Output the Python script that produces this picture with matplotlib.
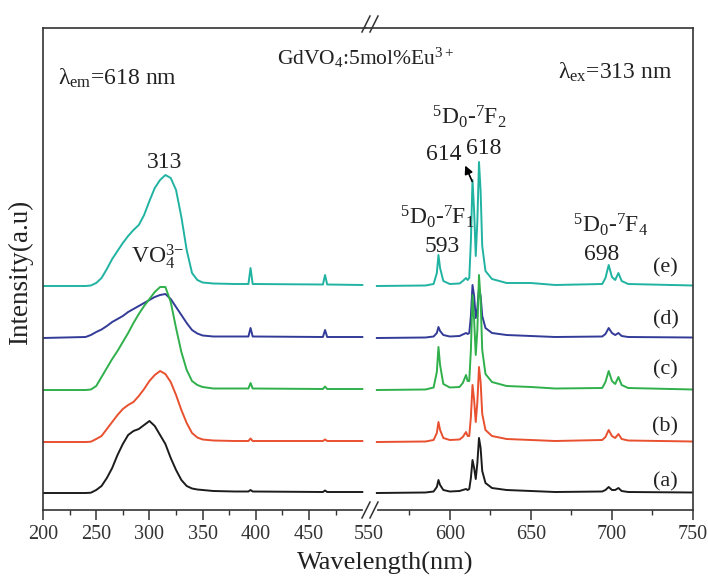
import matplotlib
matplotlib.use("Agg")
import matplotlib.pyplot as plt
from matplotlib.ticker import FixedLocator

plt.rcParams['font.family'] = ['Liberation Serif', 'DejaVu Serif']
plt.rcParams['mathtext.fontset'] = 'custom'
plt.rcParams['mathtext.rm'] = 'Liberation Serif'
plt.rcParams['mathtext.it'] = 'Liberation Serif:italic'

# excitation spectra (lambda_em = 618 nm), wavelength grid in nm
exc_nm = [200, 240, 245, 250, 255, 260, 265, 270, 275, 280, 285, 290, 295, 300,
          305, 310, 315, 320, 325, 330, 335, 340, 345, 350, 360, 380, 393, 395,
          397, 463, 465, 467, 500]
exc_a = [0, 0, 0.3, 3, 7, 15, 25, 38, 49, 58, 62, 64, 68, 72,
         67, 58, 49, 35, 23, 13, 7, 4.5, 3.5, 3, 2, 1.5, 1.5, 3,
         1.5, 1, 2.5, 1, 1]
exc_b = [0, 0, 0.3, 3, 6, 13, 20, 27, 33, 37, 40, 46, 53, 61,
         67, 71, 68, 60, 47, 32, 19, 9, 4.5, 2.5, 1.5, 1, 1, 3.5,
         1, 1, 2.5, 1, 1]
exc_c = [0, 0, 0.5, 4, 13, 22, 31, 39, 48, 57, 67, 76, 84, 91,
         98, 103, 103, 88, 62, 38, 20, 9, 5, 3, 1.5, 1.5, 1.5, 7,
         1.5, 1, 3.5, 1, 1]
exc_d = [0, 1, 3, 6, 8.5, 12, 16, 19, 22, 26, 29, 32, 35, 38,
         41, 43, 44, 39, 31, 23, 15, 8, 4.5, 2.5, 1.5, 1.5, 1.5, 10,
         1.5, 1, 8, 1, 1]
exc_e = [0, 0, 0.5, 3, 8, 17, 27, 35, 43, 50, 56, 61, 71, 85,
         98, 106, 111, 108, 96, 69, 36, 13, 6, 3.5, 2.5, 2, 2, 18,
         2, 1.5, 11, 1.5, 1]

# emission spectra (lambda_ex = 313 nm)
em_nm = [555, 585, 590, 592, 593, 594, 596, 600, 606, 608, 610, 611, 612, 613,
         614, 615, 616, 617, 618, 619, 620, 622, 626, 635, 650, 665, 694, 696,
         698, 700, 702, 704, 706, 710, 750]
em_a = [0, 0.5, 1.5, 6, 13, 8, 3, 1.5, 2, 3, 4, 3, 4, 15,
        33, 25, 14, 30, 55, 45, 22, 10, 5, 3, 2, 1, 1.5, 3,
        6, 3, 3, 5, 2, 1, 0.5]
em_b = [0, 0.5, 2, 9, 20, 12, 4, 2, 2.5, 5, 10, 6, 6, 25,
        57, 42, 20, 40, 75, 60, 28, 12, 6, 3, 2, 1, 2, 5,
        12, 6, 4, 8, 3, 1.5, 0.5]
em_c = [0, 0.5, 2.5, 18, 43, 25, 6, 2.5, 3, 7, 15, 9, 9, 40,
        95, 70, 35, 60, 115, 90, 40, 16, 8, 4, 3, 1.5, 2, 8,
        19, 9, 6, 13, 5, 2, 0.5]
em_d = [0, 0.5, 1.5, 5, 11, 7, 3, 1.5, 2, 3.5, 5, 4, 5, 22,
        53, 42, 20, 30, 50, 42, 22, 10, 5, 3, 2, 1, 1.5, 4,
        10, 5, 3, 5, 2, 1, 0.5]
em_e = [0, 0.5, 2, 13, 31, 18, 5, 2, 2.5, 5, 8, 6, 8, 45,
        106, 75, 30, 65, 124, 95, 40, 15, 7, 3, 3, 1, 2, 8,
        21, 9, 6, 13, 5, 2, 0.5]

labels = ['(a)', '(b)', '(c)', '(d)', '(e)']
offsets = [17, 68, 120, 172, 224]
colors = ['#1c1c1c', '#e8502f', '#2fb04b', '#333b98', '#21b3a2']
exc = [exc_a, exc_b, exc_c, exc_d, exc_e]
em = [em_a, em_b, em_c, em_d, em_e]

W, H = 708, 579
fig = plt.figure(figsize=(W / 100, H / 100), dpi=100)
split = 365.5
ax1 = fig.add_axes([43 / W, 69 / H, (split - 43) / W, 482 / H])
ax2 = fig.add_axes([split / W, 69 / H, (693 - split) / W, 482 / H])

draw_order = [0, 1, 3, 2, 4]
for i in draw_order:
    ax1.plot(exc_nm, [v + offsets[i] for v in exc[i]], color=colors[i], lw=1.4)
    ax2.plot(em_nm, [v + offsets[i] for v in em[i]], color=colors[i], lw=1.4)

frame = '#333333'
for ax in (ax1, ax2):
    ax.set_ylim(0, 482)
    ax.set_yticks([])
    for s in ax.spines.values():
        s.set_color(frame)
        s.set_linewidth(1.2)
    ax.tick_params(axis='x', which='major', direction='out', length=7, width=1.1,
                   color=frame, labelsize=14.5, labelcolor='#333333', pad=4)
    ax.tick_params(axis='x', which='minor', direction='out', length=3.5, width=1.0,
                   color=frame)

ax1.set_xlim(200, 503)
ax1.xaxis.set_major_locator(FixedLocator([200, 250, 300, 350, 400, 450]))
ax1.xaxis.set_minor_locator(FixedLocator([225, 275, 325, 375, 425, 475]))
ax1.spines['right'].set_visible(False)
ax1.spines['bottom'].set_bounds(200, 500)

ax2.set_xlim(548, 750)
ax2.xaxis.set_major_locator(FixedLocator([550, 600, 650, 700, 750]))
ax2.xaxis.set_minor_locator(FixedLocator([575, 625, 675, 725]))
ax2.xaxis.get_major_ticks()[0].tick1line.set_visible(False)
ax2.spines['left'].set_visible(False)
ax2.spines['bottom'].set_bounds(556, 750)

# break marks on the axis
for y0 in (510, 28):
    dy = -4 if y0 == 28 else 0
    for x0 in (362, 370):
        fig.add_artist(plt.Line2D([x0 / W, (x0 + 8) / W],
                                  [1 - (y0 + 8 + dy) / H, 1 - (y0 - 8 + dy) / H],
                                  color=frame, lw=1.1))

tc = '#222222'
fs = 17
ax1.text(214, 432, 'λ$_{\\mathrm{em}}$=618 nm', fontsize=fs, color=tc, va='center')
ax1.text(314.5, 347, '313', fontsize=fs, color=tc, ha='center', va='center')
ax1.text(308, 253, 'VO$_4^{3\\mathrm{-}}$', fontsize=fs, color=tc, ha='center', va='center')
fig.text(366 / W, 1 - 58 / H, 'GdVO$_4$:5mol%Eu$^{3+}$', fontsize=15.5, color=tc,
         ha='center', va='center')
ax2.text(667, 438, 'λ$_{\\mathrm{ex}}$=313 nm', fontsize=fs, color=tc, va='center')

ax2.text(612, 393, '${}^{5}$D$_{0}$-${}^{7}$F$_{2}$', fontsize=fs, color=tc,
         ha='center', va='center')
ax2.text(596.5, 355, '614', fontsize=fs, color=tc, ha='center', va='center')
ax2.text(621, 362, '618', fontsize=fs, color=tc, ha='center', va='center')
ax2.text(592, 293, '${}^{5}$D$_{0}$-${}^{7}$F$_{1}$', fontsize=fs, color=tc,
         ha='center', va='center')
ax2.text(595, 263, '593', fontsize=fs, color=tc, ha='center', va='center')
ax2.text(699, 285, '${}^{5}$D$_{0}$-${}^{7}$F$_{4}$', fontsize=fs, color=tc,
         ha='center', va='center')
ax2.text(693.5, 255, '698', fontsize=fs, color=tc, ha='center', va='center')
ax2.annotate('', xy=(608.8, 347), xytext=(614.5, 326),
             arrowprops=dict(arrowstyle='-|>', color='black', lw=1.2, mutation_scale=12))

label_y = [28, 83, 140, 190, 242]
for lab, y in zip(labels, label_y):
    ax2.text(733, y, lab, fontsize=16, color=tc, ha='center', va='center')

fig.text(385 / W, 1 - 563 / H, 'Wavelength(nm)', fontsize=19, color=tc,
         ha='center', va='center')
fig.text(20 / W, 1 - 272 / H, 'Intensity(a.u)', fontsize=19.5, color=tc,
         ha='center', va='center', rotation=90)

fig.savefig('out.png', dpi=100)
